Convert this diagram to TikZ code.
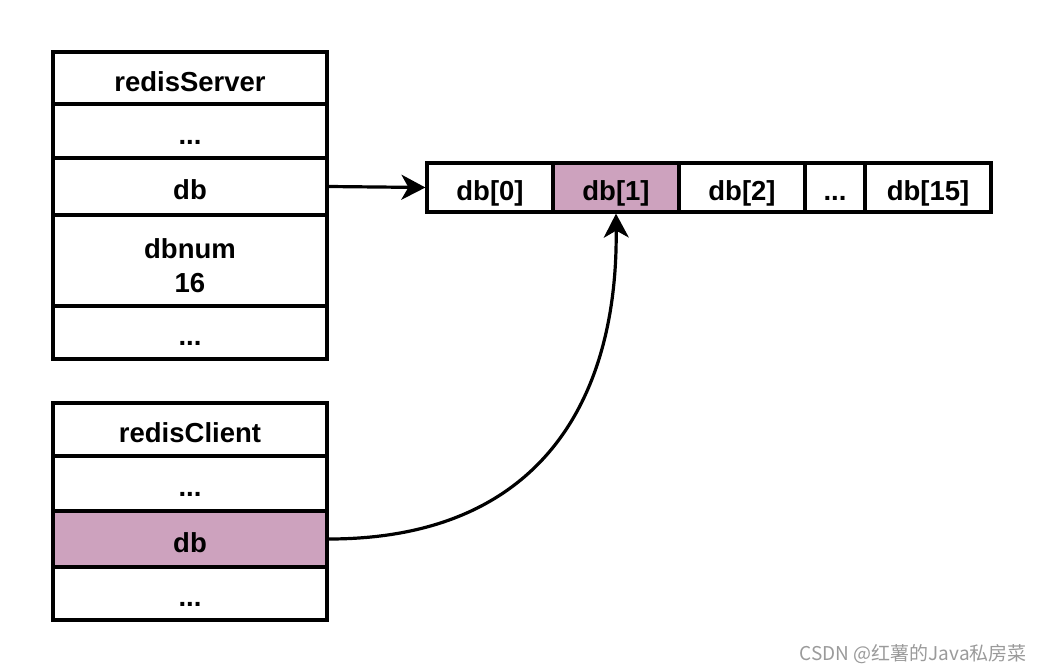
\documentclass[tikz,border=0pt]{standalone}
\usepackage{fontspec}
\setmainfont{Liberation Sans}
\newfontfamily\cjk{Noto Sans CJK SC}
\usetikzlibrary{arrows.meta}
\definecolor{pinkfill}{HTML}{CDA2BE}
\definecolor{wmgray}{HTML}{9A9A9A}
\begin{document}
\begin{tikzpicture}[x=1pt,y=-1pt,
  cell/.style={draw=black,line width=3.2pt,fill=white,rectangle,inner sep=0pt,
    font=\fontsize{27.5}{34}\selectfont\bfseries,align=center,
    text height=30pt,text depth=4pt},
  multi/.style={text height=,text depth=},
  hl/.style={fill=pinkfill},
  conn/.style={line width=3.2pt,-{Stealth[length=24pt,width=25pt,inset=7pt]}}]
\useasboundingbox (0,0) rectangle (1042,672);
% redisServer
\node[cell,minimum width=274pt,minimum height=52pt] (s0) at (190,78) {redisServer};
\node[cell,minimum width=274pt,minimum height=54pt] (s1) at (190,131) {...};
\node[cell,minimum width=274pt,minimum height=57pt] (s2) at (190,186.5) {db};
\node[cell,multi,minimum width=274pt,minimum height=91pt] (s3) at (190,260.5) {\rule{0pt}{30pt}dbnum\\16};
\node[cell,minimum width=274pt,minimum height=53pt] (s4) at (190,332.5) {...};
% redisClient
\node[cell,minimum width=274pt,minimum height=53pt] (c0) at (190,429.5) {redisClient};
\node[cell,minimum width=274pt,minimum height=55pt] (c1) at (190,483.5) {...};
\node[cell,hl,minimum width=274pt,minimum height=56pt] (c2) at (190,539) {db};
\node[cell,minimum width=274pt,minimum height=53pt] (c3) at (190,593.5) {...};
% db array
\node[cell,minimum width=126pt,minimum height=49pt] (d0) at (490,187.5) {db[0]};
\node[cell,hl,minimum width=126pt,minimum height=49pt] (d1) at (616,187.5) {db[1]};
\node[cell,minimum width=126pt,minimum height=49pt] (d2) at (742,187.5) {db[2]};
\node[cell,minimum width=60pt,minimum height=49pt] (dd) at (835,187.5) {...};
\node[cell,minimum width=126pt,minimum height=49pt] (d15) at (928,187.5) {db[15]};
% connectors
\draw[conn] (s2.east) -- (d0.west);
\draw[conn] (c2.east) .. controls (540,539) and (618,400) .. (d1.south);
% watermark
\node[text=wmgray,font=\cjk\fontsize{19}{21}\selectfont,anchor=east,inner sep=0pt] (wm) at (1027,654) {CSDN @红薯的Java私房菜};
\end{tikzpicture}
\end{document}
